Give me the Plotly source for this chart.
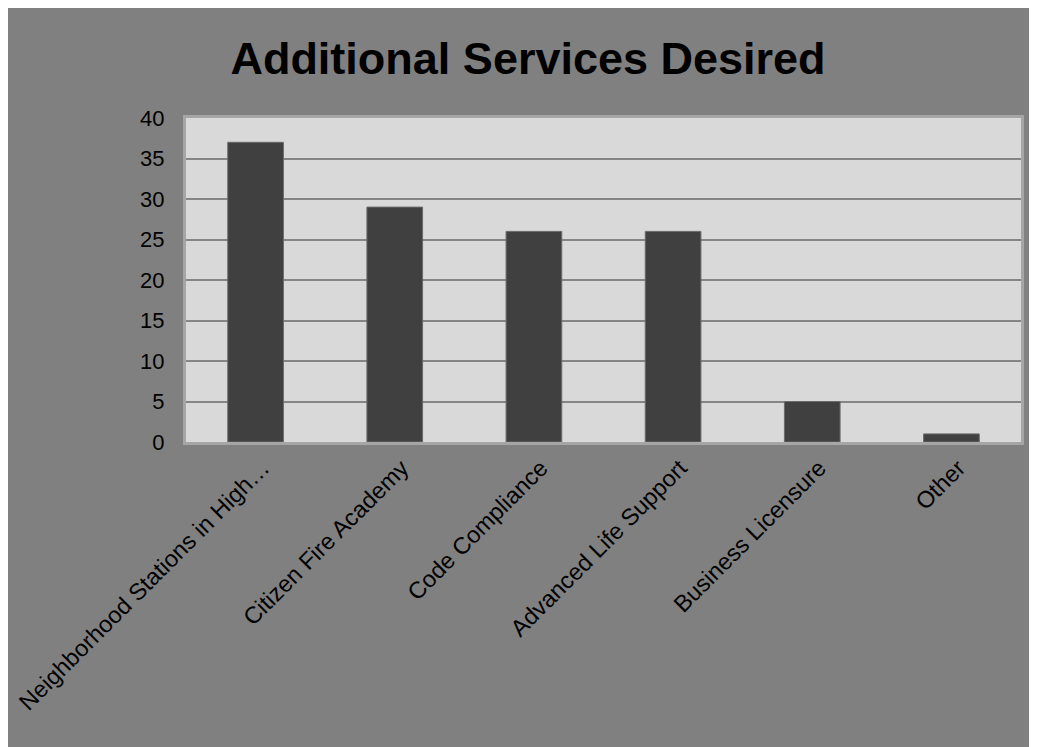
import plotly.graph_objects as go

categories = [
    "Neighborhood Stations in High…",
    "Citizen Fire Academy",
    "Code Compliance",
    "Advanced Life Support",
    "Business Licensure",
    "Other",
]
values = [37, 29, 26, 26, 5, 1]
y_ticks = [0, 5, 10, 15, 20, 25, 30, 35, 40]

# page body adds an 8px white margin on the top/left
W, H = 1029, 739
L, R, T, B = 178, 16, 110, 305

fig = go.Figure(
    go.Bar(
        x=categories,
        y=values,
        marker=dict(color="#404040", line=dict(color="#6a6a6a", width=1)),
        width=0.4,
    )
)

fig.update_layout(
    width=W, height=H,
    margin=dict(l=L, r=R, t=T, b=B, autoexpand=False),
    paper_bgcolor="#808080",
    plot_bgcolor="#d9d9d9",
    showlegend=False,
    title=dict(
        text="<b>Additional Services Desired</b>",
        x=520 / W, xanchor="center", xref="container",
        y=1 - 50 / H, yanchor="middle", yref="container",
        font=dict(family="Liberation Sans, Arial", size=45, color="black"),
    ),
    font=dict(family="Liberation Sans, Arial", color="black"),
    bargap=0.6,
)
fig.update_xaxes(
    tickangle=-45,
    tickfont=dict(size=23.5, color="black"),
    ticklabelshift=7,
    showline=True, linecolor="#a6a6a6", linewidth=3, mirror=True,
    showgrid=False, ticks="",
)
fig.update_yaxes(
    range=[0, 40],
    tickvals=y_ticks,
    tickfont=dict(size=22, color="black"),
    ticklabelstandoff=14,
    showgrid=True, gridcolor="#858585", gridwidth=2,
    showline=True, linecolor="#a6a6a6", linewidth=3, mirror=True,
    zeroline=False, ticks="",
)

fig.write_html("out.html")
